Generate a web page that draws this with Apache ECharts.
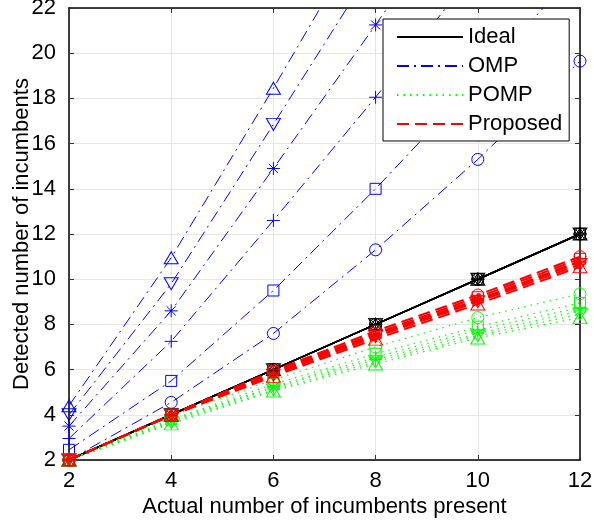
<!DOCTYPE html>
<html>
<head>
<meta charset="utf-8">
<script src="https://cdn.jsdelivr.net/npm/echarts@6/dist/echarts.min.js"></script>
<style>html,body{margin:0;padding:0;background:#fff}#c{width:594px;height:523px}</style>
</head>
<body>
<div id="c"></div>
<script>
// ---- data ----
const xValues = [2, 4, 6, 8, 10, 12];
const xTicks = [2, 4, 6, 8, 10, 12];
const yTicks = [2, 4, 6, 8, 10, 12, 14, 16, 18, 20, 22];
const markerKinds = ['circle', 'square', 'plus', 'star', 'triDown', 'triUp'];

const idealValues = [2, 4, 6, 8, 10, 12];

const ompCircle  = [2.0, 4.55, 7.6, 11.3, 15.3, 19.65];
const ompSquare  = [2.45, 5.5, 9.5, 14.0, 18.8, 23.8];
const ompPlus    = [2.95, 7.25, 12.6, 18.05, 23.8, 29.5];
const ompStar    = [3.5, 8.6, 14.9, 21.25, 27.8, 34.0];
const ompTriDown = [4.0, 9.8, 16.85, 24.0, 31.0, 38.0];
const ompTriUp   = [4.4, 10.95, 18.45, 26.2, 34.0, 42.0];

const pompCircle  = [2.0, 3.95, 5.55, 7.0, 8.3, 9.35];
const pompSquare  = [2.0, 3.8, 5.35, 6.7, 7.9, 8.95];
const pompPlus    = [2.0, 3.75, 5.25, 6.55, 7.75, 8.75];
const pompStar    = [2.0, 3.7, 5.2, 6.45, 7.6, 8.6];
const pompTriDown = [2.0, 3.65, 5.1, 6.35, 7.5, 8.45];
const pompTriUp   = [2.0, 3.6, 5.05, 6.25, 7.4, 8.3];

const propCircle  = [2.0, 4.0, 5.95, 7.7, 9.3, 11.0];
const propSquare  = [2.0, 4.0, 5.9, 7.6, 9.2, 10.9];
const propPlus    = [2.0, 4.0, 5.85, 7.55, 9.1, 10.8];
const propStar    = [2.0, 3.98, 5.8, 7.5, 9.05, 10.75];
const propTriDown = [2.0, 3.98, 5.75, 7.45, 9.0, 10.65];
const propTriUp   = [2.0, 3.97, 5.7, 7.35, 8.9, 10.55];

const legendNames = ['Ideal', 'OMP', 'POMP', 'Proposed'];
const xName = 'Actual number of incumbents present';
const yName = 'Detected number of incumbents';

// ---- styling ----
const FONT = '"Liberation Sans", Arial, Helvetica, sans-serif';
const FS = 22;
const symbolDefs = {
  circle: {symbol: 'circle', size: 12},
  square: {symbol: 'rect', size: 11},
  plus: {symbol: 'path://M5,0 L5,10 M0,5 L10,5', size: 13},
  star: {symbol: 'path://M5,0 L5,10 M0,5 L10,5 M1.5,1.5 L8.5,8.5 M1.5,8.5 L8.5,1.5', size: 13},
  triDown: {symbol: 'path://M0,0 L10,0 L5,9 Z', size: [14, 12]},
  triUp: {symbol: 'path://M5,0 L10,9 L0,9 Z', size: [14, 12]}
};
const groups = [
  {name: 'Ideal', color: '#000000', width: 1.5, type: 'solid', sets: [idealValues, idealValues, idealValues, idealValues, idealValues, idealValues]},
  {name: 'OMP', color: '#0000ff', width: 1, type: [12, 5, 2, 5], sets: [ompCircle, ompSquare, ompPlus, ompStar, ompTriDown, ompTriUp]},
  {name: 'POMP', color: '#00ff00', width: 1.2, type: [1.5, 5], sets: [pompCircle, pompSquare, pompPlus, pompStar, pompTriDown, pompTriUp]},
  {name: 'Proposed', color: '#ff0000', width: 2, type: [12, 6], sets: [propCircle, propSquare, propPlus, propStar, propTriDown, propTriUp]}
];

const series = [];
groups.forEach(g => {
  // legend proxy series (no data)
  series.push({
    name: g.name, type: 'line', data: [], symbol: 'none',
    lineStyle: {color: g.color, width: g.width, type: g.type},
    itemStyle: {color: 'rgba(0,0,0,0)', borderWidth: 0}
  });
  g.sets.forEach((vals, i) => {
    const sd = symbolDefs[markerKinds[i]];
    series.push({
      name: g.name + '_' + markerKinds[i],
      type: 'line',
      data: xValues.map((x, k) => [x, vals[k]]),
      symbol: sd.symbol,
      symbolSize: sd.size,
      showAllSymbol: true,
      clip: true,
      lineStyle: {color: g.color, width: g.width, type: g.type},
      itemStyle: {color: 'rgba(0,0,0,0)', borderColor: g.color, borderWidth: 1},
      emphasis: {disabled: true},
      z: 2
    });
  });
});

const chart = echarts.init(document.getElementById('c'), null, {renderer: 'canvas'});
const axisCommon = {
  axisLine: {show: true, onZero: false, lineStyle: {color: '#000', width: 1.5}},
  axisTick: {show: true, inside: true, length: 5, lineStyle: {color: '#333', width: 1}}
};
chart.setOption({
  animation: false,
  backgroundColor: '#fff',
  grid: {left: 69, right: 14, top: 8, bottom: 63, containLabel: false, outerBoundsMode: 'none'},
  legend: {
    data: legendNames,
    orient: 'vertical',
    left: 383, top: 19,
    padding: [7, 7, 6, 13],
    itemWidth: 66, itemHeight: 14, itemGap: 7,
    backgroundColor: '#fff',
    borderColor: '#000', borderWidth: 1,
    selectedMode: false,
    itemStyle: {color: 'rgba(0,0,0,0)', borderWidth: 0, opacity: 0},
    textStyle: {fontFamily: FONT, fontSize: FS, color: '#000', lineHeight: 20}
  },
  xAxis: [
    Object.assign({
      type: 'value', min: xTicks[0], max: xTicks[xTicks.length - 1], interval: 2,
      name: xName, nameLocation: 'middle', nameGap: 36, nameMoveOverlap: false,
      nameTextStyle: {fontFamily: FONT, fontSize: FS, color: '#000'},
      axisLabel: {fontFamily: FONT, fontSize: FS, color: '#000', margin: 10},
      splitLine: {show: true, lineStyle: {color: '#e6e6e6', width: 1}}
    }, axisCommon),
    Object.assign({
      type: 'value', position: 'top', min: xTicks[0], max: xTicks[xTicks.length - 1], interval: 2,
      axisLabel: {show: false}, splitLine: {show: false}
    }, axisCommon)
  ],
  yAxis: [
    Object.assign({
      type: 'value', min: yTicks[0], max: yTicks[yTicks.length - 1], interval: 2,
      name: yName, nameLocation: 'middle', nameGap: 36, nameMoveOverlap: false,
      nameTextStyle: {fontFamily: FONT, fontSize: FS, color: '#000'},
      axisLabel: {fontFamily: FONT, fontSize: FS, color: '#000', margin: 13},
      splitLine: {show: true, lineStyle: {color: '#e6e6e6', width: 1}}
    }, axisCommon),
    Object.assign({
      type: 'value', position: 'right', min: yTicks[0], max: yTicks[yTicks.length - 1], interval: 2,
      axisLabel: {show: false}, splitLine: {show: false}
    }, axisCommon)
  ],
  series: series
});
</script>
</body>
</html>
